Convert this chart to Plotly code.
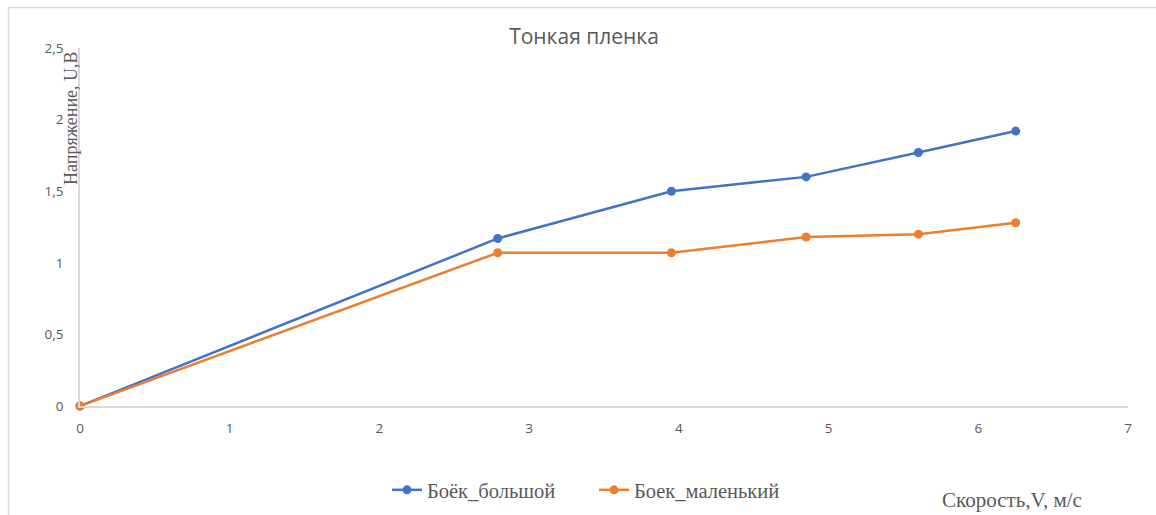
import plotly.graph_objects as go

# Impact speed (m/s) and measured voltage (V) for the thin film sensor
speed_big = [0, 2.79, 3.95, 4.85, 5.60, 6.25]
voltage_big = [0, 1.17, 1.50, 1.60, 1.77, 1.92]

speed_small = [0, 2.79, 3.95, 4.85, 5.60, 6.25]
voltage_small = [0, 1.07, 1.07, 1.18, 1.20, 1.28]

series_names = ["Боёк_большой", "Боек_маленький"]
chart_title = "Тонкая пленка"
x_title = "Скорость,V, м/с"
y_title = "Напряжение, U,В"

x_ticks = [0, 1, 2, 3, 4, 5, 6, 7]
y_ticks = [0, 0.5, 1, 1.5, 2, 2.5]
y_tick_labels = ["0", "0,5", "1", "1,5", "2", "2,5"]

BLUE = "#4472C4"
ORANGE = "#ED7D31"
GRAY_TEXT = "#595959"
AXIS_GRAY = "#D9D9D9"
SERIF = "Liberation Serif"
SANS = "Open Sans"

fig = go.Figure()
fig.add_trace(go.Scatter(
    x=speed_big, y=voltage_big, name=series_names[0],
    mode="lines+markers",
    line=dict(color=BLUE, width=2.5),
    marker=dict(color=BLUE, size=9),
    cliponaxis=False,
))
fig.add_trace(go.Scatter(
    x=speed_small, y=voltage_small, name=series_names[1],
    mode="lines+markers",
    line=dict(color=ORANGE, width=2.5),
    marker=dict(color=ORANGE, size=9),
    cliponaxis=False,
))

W, H = 1156, 515
L, R, T, B = 80, 28, 48, 109
plot_w = W - L - R
plot_h = H - T - B


def px_x(p):
    return (p - L) / plot_w


def px_y(p):
    return (H - B - p) / plot_h


fig.update_layout(
    width=W, height=H,
    margin=dict(l=L, r=R, t=T, b=B, autoexpand=False),
    paper_bgcolor="white",
    plot_bgcolor="white",
    font=dict(family=SERIF, color=GRAY_TEXT),
    showlegend=True,
    title=dict(
        text=chart_title,
        xref="container", x=584 / W, xanchor="center",
        yref="container", y=1 - 37 / H, yanchor="middle",
        font=dict(family=SANS, size=21, color=GRAY_TEXT),
    ),
    legend=dict(
        orientation="h",
        x=px_x(594), xanchor="center",
        y=px_y(470), yanchor="top",
        font=dict(family=SERIF, size=20.5, color=GRAY_TEXT),
        bgcolor="rgba(0,0,0,0)",
        entrywidth=162,
        entrywidthmode="pixels",
    ),
    xaxis=dict(
        range=[0, 7],
        tickvals=x_ticks,
        showgrid=False, zeroline=False,
        showline=True, linecolor=AXIS_GRAY, linewidth=1.5,
        ticks="",
        ticklabelstandoff=9,
        tickfont=dict(family=SANS, size=13.5, color=GRAY_TEXT),
    ),
    yaxis=dict(
        range=[0, 2.5],
        tickvals=y_ticks, ticktext=y_tick_labels,
        showgrid=False, zeroline=False,
        showline=True, linecolor=AXIS_GRAY, linewidth=1.5,
        ticks="",
        ticklabelstandoff=12,
        tickfont=dict(family=SANS, size=13.5, color=GRAY_TEXT),
    ),
    annotations=[
        dict(
            text=y_title, textangle=-90,
            xref="paper", yref="paper",
            x=px_x(71), xanchor="center",
            y=px_y(49), yanchor="top",
            showarrow=False,
            font=dict(family=SERIF, size=18, color=GRAY_TEXT),
        ),
        dict(
            text=x_title,
            xref="paper", yref="paper",
            x=px_x(1012), xanchor="center",
            y=px_y(500), yanchor="middle",
            showarrow=False,
            font=dict(family=SERIF, size=21, color=GRAY_TEXT),
        ),
    ],
    shapes=[
        # chart frame edges
        dict(type="line", xref="paper", yref="paper",
             x0=px_x(8), x1=px_x(W + 5), y0=px_y(7.5), y1=px_y(7.5),
             line=dict(color=AXIS_GRAY, width=1.5)),
        dict(type="line", xref="paper", yref="paper",
             x0=px_x(8.5), x1=px_x(8.5), y0=px_y(7.5), y1=px_y(H + 5),
             line=dict(color=AXIS_GRAY, width=1.5)),
    ],
)

fig.write_html("out.html")
